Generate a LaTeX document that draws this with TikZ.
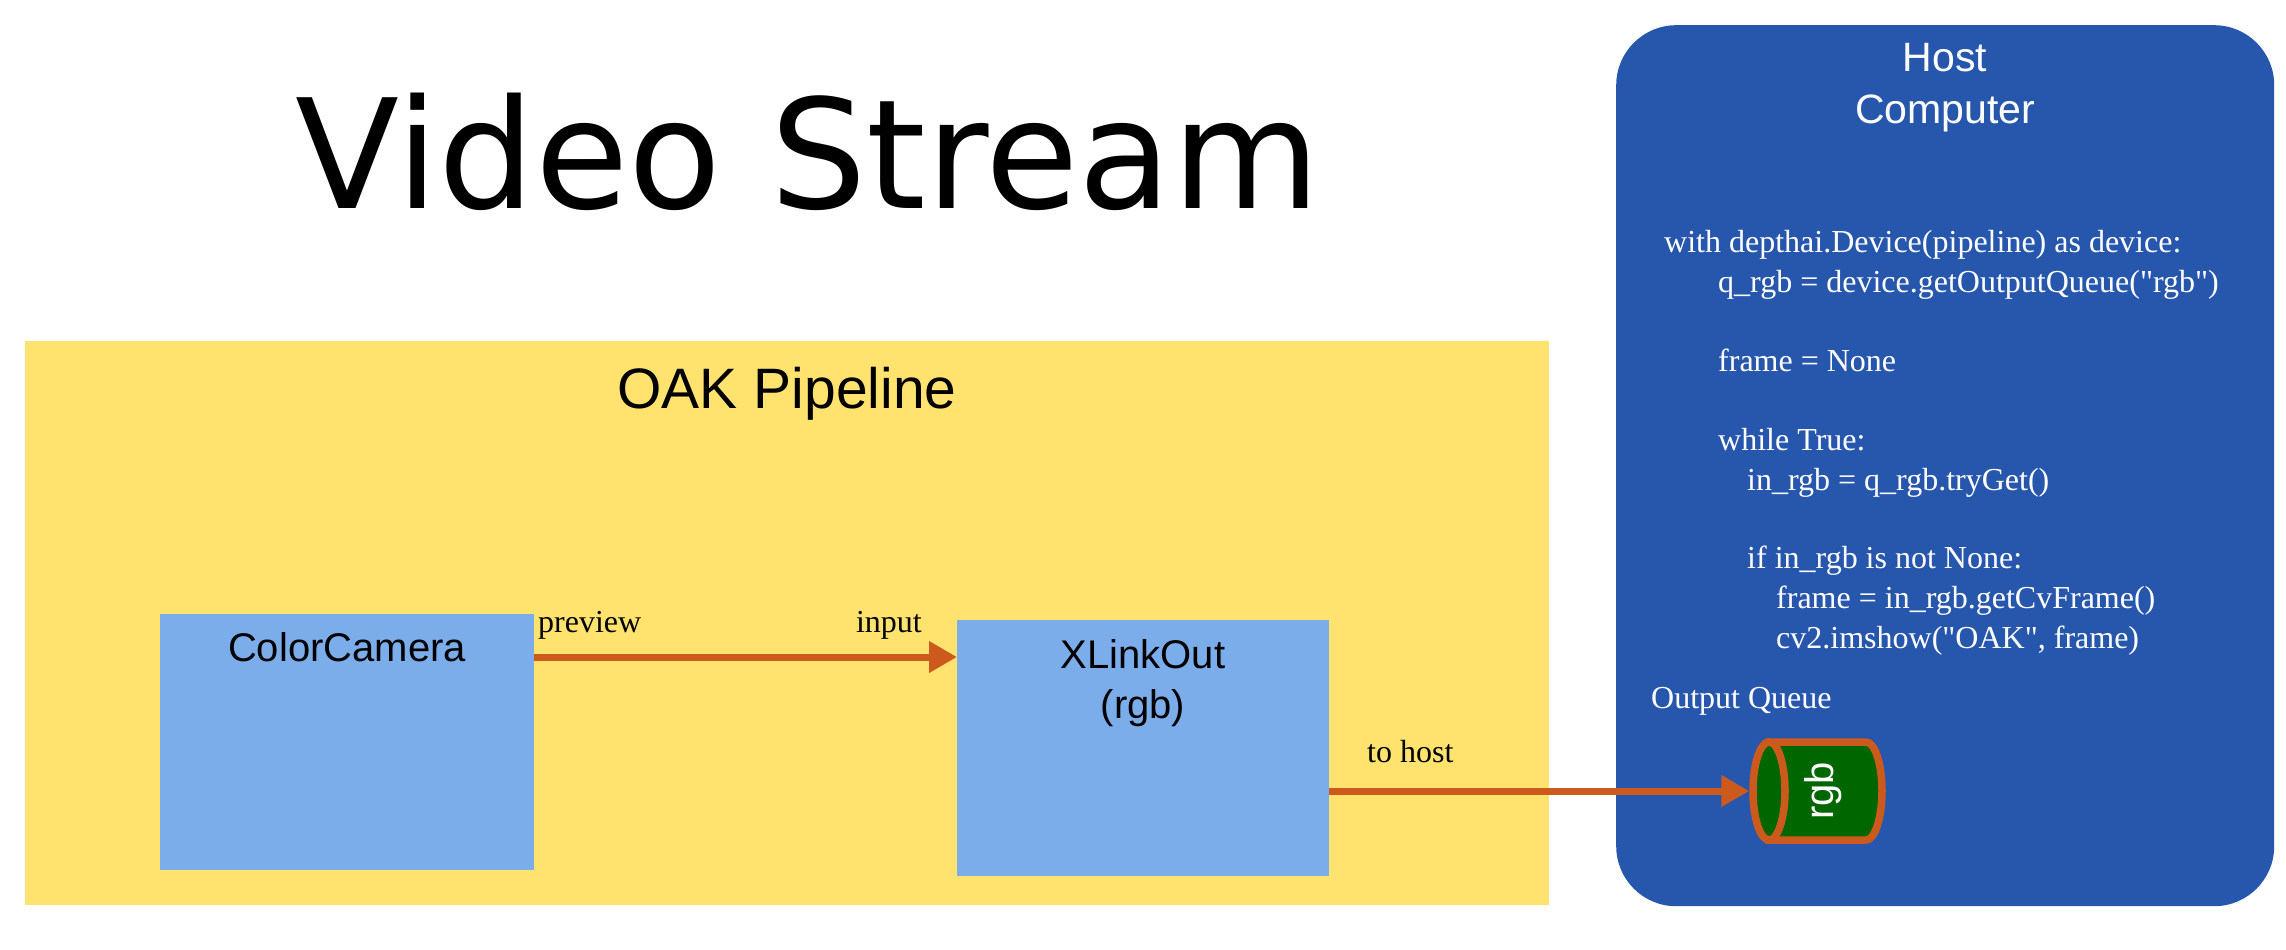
\documentclass[tikz,border=0pt]{standalone}
\usepackage{fontspec}
\setmainfont{Liberation Serif}
\newfontfamily\sansf{Liberation Sans}
\newfontfamily\titlef{DejaVu Sans}
\usetikzlibrary{arrows.meta,shapes.geometric}
\definecolor{pipeyellow}{HTML}{FFE36E}
\definecolor{nodeblue}{HTML}{7BADEB}
\definecolor{hostblue}{HTML}{2757AD}
\definecolor{flowor}{HTML}{CC5A1D}
\definecolor{qgreen}{HTML}{006600}
\newcommand{\codefont}{\fontsize{32}{40}\selectfont}
\newcommand{\dq}{\textquotedbl}
\begin{document}
\begin{tikzpicture}[x=1pt,y=-1pt,
  txt/.style={inner sep=0pt, anchor=base},
  codeline/.style={inner sep=0pt, anchor=base west, text=white, font=\codefont},
  lbl/.style={inner sep=0pt, font=\codefont},
  blockbox/.style={fill=nodeblue, inner sep=0pt, anchor=north west},
  flow/.style={draw=flowor, line width=7pt, -{Triangle[length=28pt,width=30pt]}},
  blocktext/.style={txt, font=\sansf\fontsize{40}{40}\selectfont}
]
\useasboundingbox (0,0) rectangle (2286,950);
\fill[white] (0,0) rectangle (2286,950);

% title
\node[txt, font=\titlef\fontsize{152}{160}\selectfont] (title) at (808,208) {Video Stream};

% pipeline area
\node[fill=pipeyellow, inner sep=0pt, anchor=north west, minimum width=1524pt, minimum height=564pt] (pipe) at (25,341) {};
\node[txt, font=\sansf\fontsize{57}{60}\selectfont] (pipetitle) at (787,408) {OAK Pipeline};

% host area
\node[fill=hostblue, rounded corners=60pt, inner sep=0pt, anchor=north west, minimum width=658pt, minimum height=881pt] (host) at (1616,25) {};
\node[txt, text=white, font=\sansf\fontsize{41}{41}\selectfont] (hostt1) at (1945,72) {Host};
\node[txt, text=white, font=\sansf\fontsize{41}{41}\selectfont] (hostt2) at (1945,123) {Computer};

% blocks
\node[blockbox, minimum width=374pt, minimum height=256pt] (cam) at (160,614) {};
\node[blocktext] (camt) at (347,661) {ColorCamera};
\node[blockbox, minimum width=372pt, minimum height=256pt] (xlink) at (957,620) {};
\node[blocktext] (xlinkt1) at (1143,668) {XLinkOut};
\node[blocktext] (xlinkt2) at (1143,718) {(rgb)};

% labels
\node[lbl, anchor=base west] (lpreview) at (538,632) {preview};
\node[lbl, anchor=base east] (linput) at (922,632) {input};
\node[lbl, anchor=base west] (ltohost) at (1367,762) {to host};

% code
\node[codeline] (c1) at (1664,252) {with depthai.Device(pipeline) as device:};
\node[codeline] (c2) at (1718,292) {q\_rgb = device.getOutputQueue(\dq rgb\dq)};
\node[codeline] (c3) at (1718,371) {frame = None};
\node[codeline] (c4) at (1718,450) {while True:};
\node[codeline] (c5) at (1747,490) {in\_rgb = q\_rgb.tryGet()};
\node[codeline] (c6) at (1747,568) {if in\_rgb is not None:};
\node[codeline] (c7) at (1776,608) {frame = in\_rgb.getCvFrame()};
\node[codeline] (c8) at (1776,648) {cv2.imshow(\dq OAK\dq, frame)};
\node[codeline] (oq) at (1651,708) {Output Queue};

% queue cylinder
\filldraw[fill=qgreen, draw=flowor, line width=7.5pt]
  (1769,742) -- (1866,742) arc[start angle=-90, end angle=90, x radius=16, y radius=49]
  -- (1769,840) -- cycle;
\node[ellipse, fill=qgreen, draw=flowor, line width=7.5pt, inner sep=0pt, minimum width=32pt, minimum height=98pt] (qface) at (1769,791) {};
\node[rotate=90, text=white, inner sep=0pt, font=\sansf\fontsize{40}{40}\selectfont] (qlabel) at (1823,791) {rgb};

% connectors
\draw[flow] ([yshift=-43pt]cam.north east) -- ([yshift=-37pt]xlink.north west);
\draw[flow] ([yshift=-171pt]xlink.north east) -- (qface.west);
\end{tikzpicture}
\end{document}
